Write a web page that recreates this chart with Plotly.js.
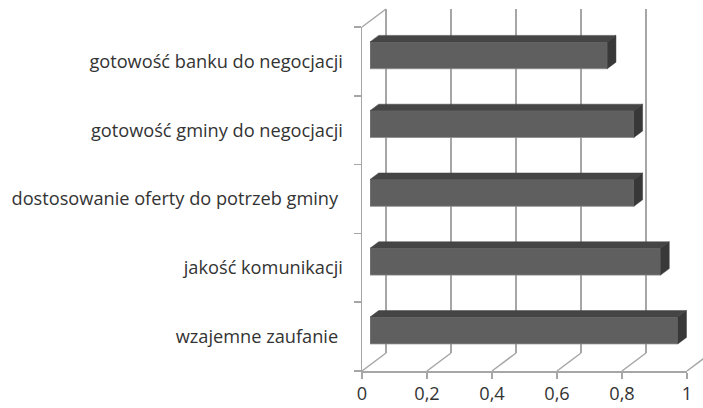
<!DOCTYPE html>
<html>
<head>
<meta charset="utf-8">
<script src="https://cdn.plot.ly/plotly-3.0.1.min.js"></script>
<style>html,body{margin:0;padding:0;background:#fff}#chart{width:703px;height:408px}</style>
</head>
<body>
<div id="chart"></div>
<script>
// Data (bottom to top)
var categories = ["wzajemne zaufanie\u00a0", "jakość komunikacji", "dostosowanie oferty do potrzeb gminy\u00a0", "gotowość gminy do negocjacji", "gotowość banku do negocjacji"];
var values = [0.947, 0.894, 0.812, 0.812, 0.730];
var xTickVals = [0, 0.2, 0.4, 0.6, 0.8, 1];

var W = 703, H = 408;
// pixel geometry of the pseudo-3D frame
var frontX0 = 362, scale = 325, frontTop = 27, frontBottom = 371;
var backDX = 24, backDY = -18;
var barX0 = 370, barCenter0 = 330.5, catPx = (frontBottom - frontTop) / categories.length;
var depthDX = 8.7 / scale, depthDY = 6.5 / catPx;
var barWidth = 0.39;

function px(x){return x / W;}
function py(y){return (H - y) / H;}

var idx = categories.map(function(_, i){return i;});

// top and side faces computed from values
var topX = [], topY = [], sideX = [], sideY = [];
values.forEach(function(v, i){
  var yt = i + barWidth/2, yb = i - barWidth/2;
  topX.push(0, v, v + depthDX, depthDX, 0, null);
  topY.push(yt, yt, yt + depthDY, yt + depthDY, yt, null);
  sideX.push(v, v + depthDX, v + depthDX, v, v, null);
  sideY.push(yb, yb + depthDY, yt + depthDY, yt, yb, null);
});

var traces = [
  // invisible anchors so that the front axes and the back wall are drawn
  {type:'scatter', mode:'markers', x:[0], y:[0], xaxis:'x', yaxis:'y', marker:{opacity:0}, hoverinfo:'skip'},
  {type:'scatter', mode:'markers', x:[0], y:[0], xaxis:'x2', yaxis:'y2', marker:{opacity:0}, hoverinfo:'skip'},
  {type:'bar', orientation:'h', x:values, y:idx, width:barWidth, xaxis:'x3', yaxis:'y3',
   marker:{color:'#5f5f5f', line:{color:'#8a8a8a', width:0.8}}, hoverinfo:'x+text', text:categories, textposition:'none'},
  {type:'scatter', mode:'lines', x:topX, y:topY, xaxis:'x3', yaxis:'y3', fill:'toself',
   fillcolor:'#454545', line:{color:'#454545', width:0.5}, hoverinfo:'skip'},
  {type:'scatter', mode:'lines', x:sideX, y:sideY, xaxis:'x3', yaxis:'y3', fill:'toself',
   fillcolor:'#383838', line:{color:'#383838', width:0.5}, hoverinfo:'skip'}
];

var backX0 = frontX0 + backDX, backStart = -0.01;
var font = {family:'"Open Sans", Lato, sans-serif', size:18.2, color:'#333333'};

// frame diagonals
var shapes = [];
xTickVals.forEach(function(t){
  var fx = frontX0 + scale*t;
  shapes.push({type:'line', xref:'paper', yref:'paper', x0:px(fx), y0:py(frontBottom), x1:px(fx+backDX), y1:py(frontBottom+backDY), line:{color:'#a6a6a6', width:1.5}});
});
shapes.push({type:'line', xref:'paper', yref:'paper', x0:px(frontX0), y0:py(frontTop), x1:px(frontX0+backDX), y1:py(frontTop+backDY), line:{color:'#a6a6a6', width:1.5}});

var minorVals = [];
for (var k = 0; k <= categories.length; k++) minorVals.push(k - 0.5);

var layout = {
  width:W, height:H, margin:{l:0,r:0,t:0,b:0}, showlegend:false,
  paper_bgcolor:'#ffffff', plot_bgcolor:'rgba(0,0,0,0)', separators:', ', font:font,
  // back wall gridlines
  xaxis2:{domain:[px(backX0 + backStart*scale), 1], range:[backStart, (W-backX0)/scale], anchor:'y2',
    showgrid:true, gridcolor:'#a6a6a6', gridwidth:1.5, tickvals:xTickVals, showticklabels:false, ticks:'', zeroline:false, showline:false, fixedrange:true},
  yaxis2:{domain:[py(frontBottom+backDY), py(frontTop+backDY)], range:[0,1], anchor:'x2', showgrid:false, showticklabels:false, zeroline:false, ticks:'', fixedrange:true},
  // front axes
  xaxis:{domain:[px(frontX0), px(frontX0+scale)], range:[0,1], anchor:'y', tickvals:xTickVals,
    ticks:'outside', ticklen:6, tickwidth:1.5, tickcolor:'#a6a6a6', showline:true, linecolor:'#a6a6a6', linewidth:1.5,
    showgrid:false, zeroline:false, tickfont:font, ticklabelstandoff:0, fixedrange:true},
  yaxis:{domain:[py(frontBottom), py(frontTop)], range:[-0.5, categories.length-0.5], anchor:'x',
    tickvals:idx, ticktext:categories, ticks:'', showline:true, linecolor:'#a6a6a6', linewidth:1.5,
    showgrid:false, zeroline:false, tickfont:font, ticklabelstandoff:14, fixedrange:true,
    minor:{tickvals:minorVals, ticks:'outside', ticklen:7, tickwidth:1.5, tickcolor:'#a6a6a6', showgrid:false}},
  // bars plane
  xaxis3:{domain:[px(barX0), 1], range:[0, (W-barX0)/scale], anchor:'y3', visible:false, fixedrange:true},
  yaxis3:{domain:[py(barCenter0 + catPx/2), py(barCenter0 + catPx/2 - catPx*categories.length)], range:[-0.5, categories.length-0.5], anchor:'x3', visible:false, fixedrange:true},
  shapes:shapes
};

Plotly.newPlot('chart', traces, layout, {displayModeBar:false, staticPlot:true});
</script>
</body>
</html>
